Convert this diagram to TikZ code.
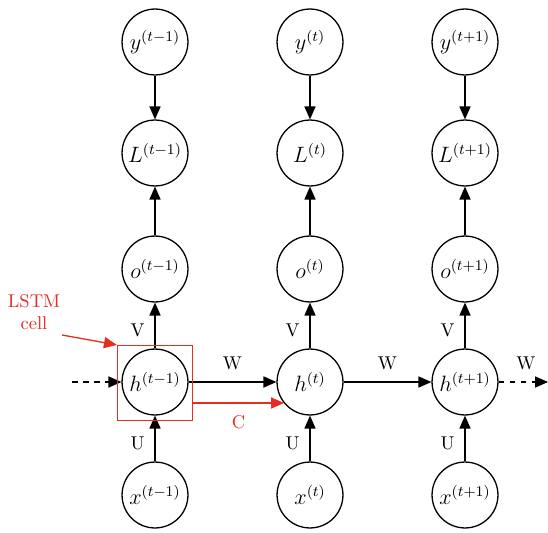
\documentclass[tikz,border=0pt]{standalone}
\usepackage{amsmath,amssymb}
\usetikzlibrary{arrows.meta}
\definecolor{cellred}{RGB}{228,45,35}

\begin{document}
\begin{tikzpicture}[
      x=0.54pt, y=-0.54pt,
      unit/.style={circle,draw,minimum size=35.6pt,inner sep=0pt,
        font=\fontsize{12}{14}\selectfont},
      tip/.style={-{Triangle[length=7pt,width=6pt]}},
      lstm/.style={draw=cellred,semithick},
      every path/.style={line width=0.7pt}
    ]
    \useasboundingbox (0,0) rectangle (548,533);
    % columns t-1, t, t+1
    \node (y0) [unit] at (155,42) {$y^{(t-1)}$};
    \node (y1) [unit] at (310,42) {$y^{(t)}$};
    \node (y2) [unit] at (465,42) {$y^{(t+1)}$};
    \node (L0) [unit] at (155,153) {$L^{(t-1)}$};
    \node (L1) [unit] at (310,153) {$L^{(t)}$};
    \node (L2) [unit] at (465,153) {$L^{(t+1)}$};
    \node (o0) [unit] at (155,269) {$o^{(t-1)}$};
    \node (o1) [unit] at (310,269) {$o^{(t)}$};
    \node (o2) [unit] at (465,269) {$o^{(t+1)}$};
    \node (h0) [unit] at (155,382) {$h^{(t-1)}$};
    \node (h1) [unit] at (310,382) {$h^{(t)}$};
    \node (h2) [unit] at (465,382) {$h^{(t+1)}$};
    \node (x0) [unit] at (155,495) {$x^{(t-1)}$};
    \node (x1) [unit] at (310,495) {$x^{(t)}$};
    \node (x2) [unit] at (465,495) {$x^{(t+1)}$};
    \coordinate (in) at (72,382);
    \coordinate (out) at (548,382);

    \foreach \i in {0,1,2} {
      \draw[tip] (y\i) -- (L\i);
      \draw[tip] (o\i) -- (L\i);
      \draw[tip] (h\i) -- node[left=2pt,pos=0.4] {V} (o\i);
      \draw[tip] (x\i) -- node[left=2pt,pos=0.4] {U} (h\i);
    }
    \draw[tip] (h0) -- node[above=3pt] {W} (h1);
    \draw[tip] (h1) -- node[above=3pt] {W} (h2);
    \draw[tip,dashed] (in) -- (h0);
    \draw[tip,dashed] (h2) -- node[above=3pt,pos=0.55] {W} (out);

    % LSTM cell
    \node (cell) [lstm,minimum size=40.5pt,inner sep=0pt] at (155,383) {};
    \node (celltxt) [cellred,align=center] at (34,312) {LSTM\\cell};
    \coordinate (c0) at (cell.east |- 0,403);
    \coordinate (c1) at (284,403);
    \draw[tip,cellred] (c0) -- node[below=3pt] {C} (c1);
    \draw[tip,cellred] (62,335) -- (cell.north west);
  \end{tikzpicture}
\end{document}
